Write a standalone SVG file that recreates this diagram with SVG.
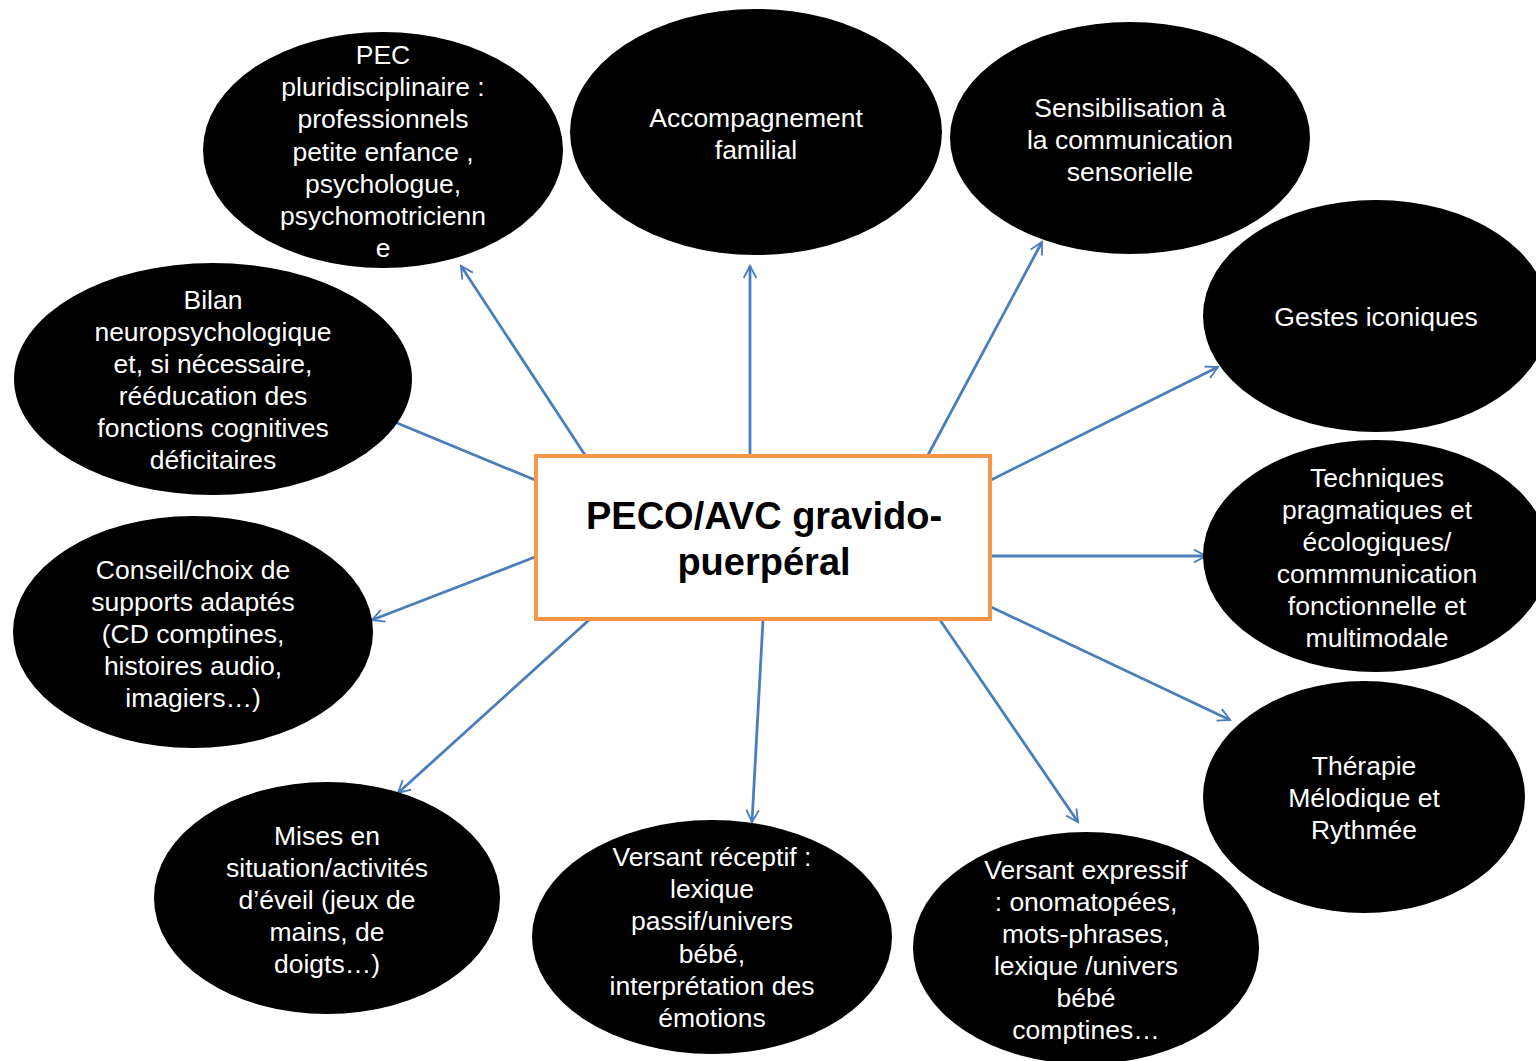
<svg xmlns="http://www.w3.org/2000/svg" width="1536" height="1061" viewBox="0 0 1536 1061">
<style>
.n{fill:#000}
.t{fill:#fff;font-family:"Liberation Sans",Arial,sans-serif;font-size:26.5px;text-anchor:middle}
.c{stroke:#4A7EBB;stroke-width:2.8;fill:none;marker-end:url(#a)}
.ct{fill:#000;font-family:"Liberation Sans",Arial,sans-serif;font-size:38px;font-weight:bold;text-anchor:middle}
</style>
<defs>
<marker id="a" viewBox="0 0 12 12" refX="11" refY="6" markerWidth="8" markerHeight="8" markerUnits="userSpaceOnUse" orient="auto" overflow="visible">
<path d="M-7,-3.5 L11,6 L-7,15.5" fill="none" stroke="#4A7EBB" stroke-width="2.8"/>
</marker>
</defs>
<rect width="1536" height="1061" fill="#fff"/>
<g id="connectors">
<line class="c" x1="585" y1="455" x2="461" y2="266"/>
<line class="c" x1="750" y1="455" x2="750" y2="266"/>
<line class="c" x1="928" y1="455" x2="1042" y2="242"/>
<line class="c" x1="991" y1="480" x2="1218" y2="367"/>
<line class="c" x1="991" y1="556" x2="1206" y2="556"/>
<line class="c" x1="991" y1="607" x2="1230" y2="720"/>
<line class="c" x1="940" y1="620" x2="1078" y2="822"/>
<line class="c" x1="763" y1="620" x2="752" y2="822"/>
<line class="c" x1="589" y1="620" x2="398" y2="793"/>
<line class="c" x1="535" y1="557" x2="372" y2="620"/>
<line class="c" x1="535" y1="480" x2="385" y2="418"/>
</g>
<g id="n-pec">
<ellipse class="n" cx="383" cy="150" rx="180" ry="118"/>
<text class="t" x="383"><tspan x="383" y="64">PEC</tspan><tspan x="383" y="96">pluridisciplinaire :</tspan><tspan x="383" y="128">professionnels</tspan><tspan x="383" y="161">petite enfance ,</tspan><tspan x="383" y="193">psychologue,</tspan><tspan x="383" y="225">psychomotricienn</tspan><tspan x="383" y="257">e</tspan></text>
</g>
<g id="n-accompagnement">
<ellipse class="n" cx="756" cy="132" rx="186" ry="123"/>
<text class="t"><tspan x="756" y="127">Accompagnement</tspan><tspan x="756" y="159">familial</tspan></text>
</g>
<g id="n-sensibilisation">
<ellipse class="n" cx="1130" cy="138" rx="180" ry="116"/>
<text class="t"><tspan x="1130" y="117">Sensibilisation à</tspan><tspan x="1130" y="149">la communication</tspan><tspan x="1130" y="181">sensorielle</tspan></text>
</g>
<g id="n-gestes">
<ellipse class="n" cx="1376" cy="316" rx="173" ry="116"/>
<text class="t"><tspan x="1376" y="326">Gestes iconiques</tspan></text>
</g>
<g id="n-techniques">
<ellipse class="n" cx="1376" cy="556" rx="173" ry="116"/>
<text class="t"><tspan x="1377" y="487">Techniques</tspan><tspan x="1377" y="519">pragmatiques et</tspan><tspan x="1377" y="551">écologiques/</tspan><tspan x="1377" y="583">commmunication</tspan><tspan x="1377" y="615">fonctionnelle et</tspan><tspan x="1377" y="647">multimodale</tspan></text>
</g>
<g id="n-therapie">
<ellipse class="n" cx="1364" cy="797" rx="161" ry="116"/>
<text class="t"><tspan x="1364" y="775">Thérapie</tspan><tspan x="1364" y="807">Mélodique et</tspan><tspan x="1364" y="839">Rythmée</tspan></text>
</g>
<g id="n-expressif">
<ellipse class="n" cx="1086" cy="948" rx="173" ry="116"/>
<text class="t"><tspan x="1086" y="879">Versant expressif</tspan><tspan x="1086" y="911">: onomatopées,</tspan><tspan x="1086" y="943">mots-phrases,</tspan><tspan x="1086" y="975">lexique /univers</tspan><tspan x="1086" y="1007">bébé</tspan><tspan x="1086" y="1039">comptines…</tspan></text>
</g>
<g id="n-receptif">
<ellipse class="n" cx="712" cy="937" rx="180" ry="117"/>
<text class="t"><tspan x="712" y="866">Versant réceptif :</tspan><tspan x="712" y="898">lexique</tspan><tspan x="712" y="930">passif/univers</tspan><tspan x="712" y="963">bébé,</tspan><tspan x="712" y="995">interprétation des</tspan><tspan x="712" y="1027">émotions</tspan></text>
</g>
<g id="n-mises">
<ellipse class="n" cx="327" cy="898" rx="173" ry="116"/>
<text class="t"><tspan x="327" y="845">Mises en</tspan><tspan x="327" y="877">situation/activités</tspan><tspan x="327" y="909">d’éveil (jeux de</tspan><tspan x="327" y="941">mains, de</tspan><tspan x="327" y="973">doigts…)</tspan></text>
</g>
<g id="n-conseil">
<ellipse class="n" cx="193" cy="632" rx="180" ry="116"/>
<text class="t"><tspan x="193" y="579">Conseil/choix de</tspan><tspan x="193" y="611">supports adaptés</tspan><tspan x="193" y="643">(CD comptines,</tspan><tspan x="193" y="675">histoires audio,</tspan><tspan x="193" y="707">imagiers…)</tspan></text>
</g>
<g id="n-bilan">
<ellipse class="n" cx="213" cy="379" rx="199" ry="116"/>
<text class="t"><tspan x="213" y="309">Bilan</tspan><tspan x="213" y="341">neuropsychologique</tspan><tspan x="213" y="373">et, si nécessaire,</tspan><tspan x="213" y="405">rééducation des</tspan><tspan x="213" y="437">fonctions cognitives</tspan><tspan x="213" y="469">déficitaires</tspan></text>
</g>
<g id="n-center">
<rect x="536" y="456" width="454" height="163" fill="#fff" stroke="#F79646" stroke-width="4"/>
<text class="ct"><tspan x="764" y="529">PECO/AVC gravido-</tspan><tspan x="764" y="575">puerpéral</tspan></text>
</g>
</svg>
